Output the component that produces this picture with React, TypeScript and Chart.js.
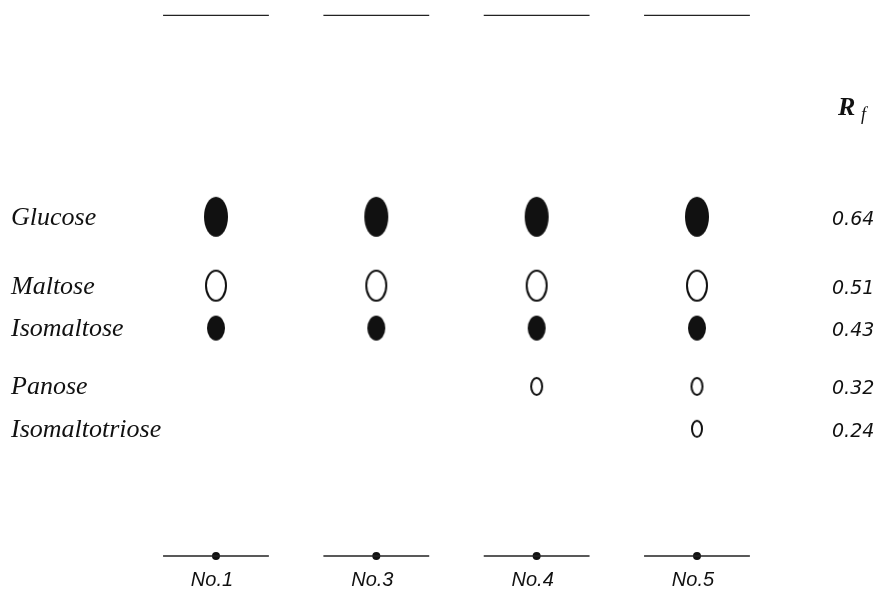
import React, { useEffect, useRef } from "react";
import { Chart, registerables } from "chart.js";

Chart.register(...registerables);

// ---- data ----
const lanes = ["No.1", "No.3", "No.4", "No.5"];
const compounds = ["Glucose", "Maltose", "Isomaltose", "Panose", "Isomaltotriose"];
const rfValues = [0.64, 0.51, 0.43, 0.32, 0.24];
const rfLabels = ["0.64", "0.51", "0.43", "0.32", "0.24"];
// lane indices in which each compound was detected
const glucoseLanes = [0, 1, 2, 3];
const maltoseLanes = [0, 1, 2, 3];
const isomaltoseLanes = [0, 1, 2, 3];
const panoseLanes = [2, 3];
const isomaltotrioseLanes = [3];
const originRf = 0;
const frontRf = 1.02;

const presence = [glucoseLanes, maltoseLanes, isomaltoseLanes, panoseLanes, isomaltotrioseLanes];

// ---- styles ----
const spotStyles = [
  { filled: true, w: 24, h: 40 },
  { filled: false, w: 22, h: 32 },
  { filled: true, w: 18, h: 25 },
  { filled: false, w: 13, h: 19 },
  { filled: false, w: 12, h: 18 },
];
const LINE_HALF = 0.33;

function makeSpot(filled: boolean, w: number, h: number): HTMLCanvasElement {
  const c = document.createElement("canvas");
  c.width = w + 4;
  c.height = h + 4;
  const ctx = c.getContext("2d")!;
  ctx.beginPath();
  ctx.ellipse(c.width / 2, c.height / 2, w / 2 - (filled ? 0 : 1), h / 2 - (filled ? 0 : 1), 0, 0, Math.PI * 2);
  if (filled) {
    ctx.fillStyle = "#111";
    ctx.fill();
  } else {
    ctx.strokeStyle = "#111";
    ctx.lineWidth = 2;
    ctx.stroke();
  }
  return c;
}

export default function App() {
  const ref = useRef<HTMLCanvasElement | null>(null);

  useEffect(() => {
    if (!ref.current) return;
    const datasets: any[] = [];

    // origin and solvent-front lines per lane
    lanes.forEach((_, i) => {
      [originRf, frontRf].forEach((rf, k) => {
        datasets.push({
          type: "scatter",
          data: [
            { x: i - LINE_HALF, y: rf },
            { x: i + LINE_HALF, y: rf },
          ],
          showLine: true,
          borderColor: "#222",
          borderWidth: k === 0 ? 1.6 : 1.2,
          pointRadius: 0,
        });
      });
    });

    // origin dots
    datasets.push({
      type: "scatter",
      data: lanes.map((_, i) => ({ x: i, y: originRf })),
      pointRadius: 4,
      pointBackgroundColor: "#111",
      pointBorderWidth: 0,
      showLine: false,
    });

    // spots
    compounds.forEach((_, ci) => {
      const st = spotStyles[ci];
      datasets.push({
        type: "scatter",
        data: presence[ci].map((li) => ({ x: li, y: rfValues[ci] })),
        pointStyle: makeSpot(st.filled, st.w, st.h),
        showLine: false,
      });
    });

    const textPlugin = {
      id: "texts",
      afterDatasetsDraw(chart: any) {
        const ctx = chart.ctx as CanvasRenderingContext2D;
        const xs = chart.scales.x;
        const ys = chart.scales.y;
        ctx.save();
        ctx.fillStyle = "#111";
        ctx.textBaseline = "middle";
        // compound names
        ctx.font = "italic 26px 'Liberation Serif'";
        ctx.textAlign = "left";
        compounds.forEach((name, i) => {
          ctx.fillText(name, 11, ys.getPixelForValue(rfValues[i]) + 1);
        });
        // Rf values
        ctx.font = "italic 19px 'DejaVu Sans'";
        rfLabels.forEach((lab, i) => {
          ctx.fillText(lab, 832, ys.getPixelForValue(rfValues[i]) + 3);
        });
        // Rf header
        ctx.font = "bold italic 26px 'Liberation Serif'";
        ctx.textBaseline = "alphabetic";
        ctx.fillText("R", 838, 115);
        ctx.font = "italic 18px 'Liberation Serif'";
        ctx.fillText("f", 861, 120);
        // lane labels
        ctx.font = "italic 20px 'Liberation Sans'";
        ctx.textAlign = "center";
        ctx.textBaseline = "middle";
        lanes.forEach((lab, i) => {
          ctx.fillText(lab, xs.getPixelForValue(i) - 4, 580);
        });
        ctx.restore();
      },
    };

    const chart = new Chart(ref.current, {
      type: "scatter",
      data: { datasets },
      options: {
        animation: false,
        responsive: false,
        layout: { padding: 0, autoPadding: false },
        plugins: { legend: { display: false }, tooltip: { enabled: false } },
        scales: {
          x: { type: "linear", display: false, min: -1.347, max: 4.154 },
          y: { type: "linear", display: false, min: -0.0717, max: 1.049 },
        },
      },
      plugins: [textPlugin],
    });
    return () => chart.destroy();
  }, []);

  return (
    <div style={{ position: "fixed", left: 0, top: 0, width: 882, height: 594, background: "#fff" }}>
      <canvas ref={ref} width={882} height={594} style={{ display: "block" }} />
    </div>
  );
}
